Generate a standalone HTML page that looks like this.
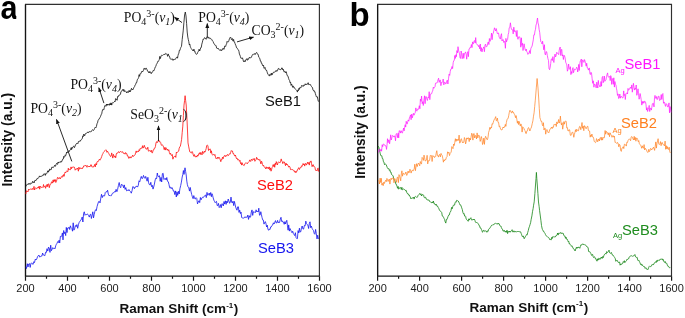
<!DOCTYPE html>
<html><head><meta charset="utf-8"><style>
html,body{margin:0;padding:0;background:#fff;}
svg{display:block;will-change:transform;}
text{font-family:"Liberation Sans",sans-serif;}
.tk{font-size:11px;fill:#222;}
.ttl{font-size:13.5px;font-weight:bold;fill:#111;}
.big{font-size:33px;font-weight:bold;fill:#000;}
.lab{font-size:14.7px;}
.ser text,.ser{font-family:"Liberation Serif",serif;font-size:13.7px;fill:#111;}
.it{font-style:italic;}
</style></head><body>
<svg width="685" height="318" viewBox="0 0 685 318">
<rect width="685" height="318" fill="#fff"/>
<clipPath id="ca"><rect x="0" y="0" width="16.3" height="30"/></clipPath><g clip-path="url(#ca)"><text x="0" y="18.6" class="big" transform="translate(0.5,0) scale(0.9,1)" style="font-size:34px">a</text></g>
<text x="349.5" y="25.5" class="big">b</text>
<path d="M25.5 276.2V4.4H319.4V276.2" fill="none" stroke="#303030" stroke-width="1.15"/>
<path d="M25.5 4.4V276.2H319.4" fill="none" stroke="#151515" stroke-width="1.25"/>
<path d="M25.5 276.2v4.6 M46.5 276.2v2.6 M67.5 276.2v4.6 M88.5 276.2v2.6 M109.5 276.2v4.6 M130.5 276.2v2.6 M151.5 276.2v4.6 M172.5 276.2v2.6 M193.5 276.2v4.6 M214.5 276.2v2.6 M235.5 276.2v4.6 M256.5 276.2v2.6 M277.5 276.2v4.6 M298.5 276.2v2.6 M319.5 276.2v4.6" stroke="#151515" stroke-width="1.2"/>
<text x="25.5" y="292.3" text-anchor="middle" class="tk">200</text>
<text x="67.5" y="292.3" text-anchor="middle" class="tk">400</text>
<text x="109.5" y="292.3" text-anchor="middle" class="tk">600</text>
<text x="151.5" y="292.3" text-anchor="middle" class="tk">800</text>
<text x="193.5" y="292.3" text-anchor="middle" class="tk">1000</text>
<text x="235.5" y="292.3" text-anchor="middle" class="tk">1200</text>
<text x="277.5" y="292.3" text-anchor="middle" class="tk">1400</text>
<text x="319.5" y="292.3" text-anchor="middle" class="tk">1600</text>
<path d="M377.6 276.2V4.4H671.5V276.2" fill="none" stroke="#303030" stroke-width="1.15"/>
<path d="M377.6 4.4V276.2H671.5" fill="none" stroke="#151515" stroke-width="1.25"/>
<path d="M377.6 276.2v4.6 M398.6 276.2v2.6 M419.6 276.2v4.6 M440.6 276.2v2.6 M461.6 276.2v4.6 M482.6 276.2v2.6 M503.6 276.2v4.6 M524.6 276.2v2.6 M545.6 276.2v4.6 M566.6 276.2v2.6 M587.6 276.2v4.6 M608.6 276.2v2.6 M629.6 276.2v4.6 M650.6 276.2v2.6 M671.6 276.2v4.6" stroke="#151515" stroke-width="1.2"/>
<text x="377.6" y="292.3" text-anchor="middle" class="tk">200</text>
<text x="419.6" y="292.3" text-anchor="middle" class="tk">400</text>
<text x="461.6" y="292.3" text-anchor="middle" class="tk">600</text>
<text x="503.6" y="292.3" text-anchor="middle" class="tk">800</text>
<text x="545.6" y="292.3" text-anchor="middle" class="tk">1000</text>
<text x="587.6" y="292.3" text-anchor="middle" class="tk">1200</text>
<text x="629.6" y="292.3" text-anchor="middle" class="tk">1400</text>
<text x="671.6" y="292.3" text-anchor="middle" class="tk">1600</text>
<text class="ttl" x="119.6" y="313.3">Raman Shift (cm<tspan dy="-5.8" font-size="8">-1</tspan><tspan dy="5.8" dx="0.6">)</tspan></text>
<text class="ttl" x="469.5" y="311.9">Raman Shift (cm<tspan dy="-5.8" font-size="8">-1</tspan><tspan dy="5.8" dx="0.6">)</tspan></text>
<text class="ttl" style="font-size:13.8px" transform="translate(11.8,139.7) rotate(-90)" text-anchor="middle">Intensity (a.u.)</text>
<text class="ttl" style="font-size:13.8px" transform="translate(364.5,132.1) rotate(-90)" text-anchor="middle">Intensity (a.u.)</text>
<polyline fill="none" stroke="#1414ee" stroke-width="0.8" stroke-linejoin="round" points="25.8,266.7 26.5,268.5 27.3,263.7 28.0,267.0 28.7,264.0 29.5,263.6 30.2,267.4 30.9,263.6 31.6,262.8 32.4,264.0 33.1,264.4 33.8,261.7 34.5,262.6 35.3,259.1 36.0,260.0 36.7,259.2 37.5,256.8 38.2,255.8 38.9,255.0 39.7,257.1 40.4,256.7 41.1,255.9 41.9,256.2 42.6,253.0 43.3,255.0 44.1,255.2 44.8,255.8 45.6,252.2 46.3,252.6 47.0,248.7 47.8,251.1 48.5,247.1 49.2,248.0 50.0,252.4 50.7,245.2 51.4,250.7 52.1,249.3 52.8,247.6 53.6,248.6 54.3,248.3 55.0,248.9 55.7,245.8 56.4,244.2 57.0,243.3 57.7,241.6 58.4,242.6 59.1,240.2 59.7,243.0 60.4,236.3 61.1,236.8 61.7,236.2 62.4,232.9 63.0,239.9 63.7,230.5 64.3,233.6 65.0,232.1 65.7,235.6 66.3,227.4 67.0,232.6 67.6,228.1 68.3,228.3 69.0,227.1 69.7,229.5 70.4,225.8 71.1,227.7 71.8,228.4 72.5,231.2 73.2,222.8 73.9,230.2 74.6,228.9 75.4,225.5 76.2,226.6 76.9,224.6 77.7,228.3 78.5,224.3 79.2,222.4 80.0,221.2 80.7,220.2 81.5,219.1 82.2,217.0 82.9,222.0 83.6,213.3 84.3,211.8 85.0,215.3 85.7,214.5 86.4,214.7 87.1,213.9 87.8,214.3 88.6,215.6 89.3,217.1 90.0,214.6 90.7,214.3 91.4,218.5 92.1,215.2 92.8,211.8 93.5,217.9 94.2,214.4 94.9,211.3 95.6,209.7 96.3,210.6 97.1,206.4 97.8,204.0 98.6,201.6 99.3,201.4 100.0,202.9 100.8,198.1 101.5,194.3 102.3,197.6 103.0,195.4 103.8,196.0 104.6,195.9 105.3,192.4 106.1,191.6 106.8,192.1 107.6,190.2 108.3,194.1 109.1,195.8 109.9,195.2 110.8,196.1 111.5,195.4 112.2,193.6 113.0,192.8 113.7,192.9 114.5,191.6 115.3,192.0 116.1,189.3 116.9,191.7 117.6,189.5 118.4,185.6 119.2,182.5 119.9,186.3 120.7,187.7 121.4,184.3 122.1,185.0 122.9,185.1 123.6,187.8 124.3,184.9 125.1,189.4 125.8,187.6 126.6,190.8 127.4,190.2 128.1,190.9 128.9,189.5 129.7,190.9 130.5,191.6 131.3,193.2 132.1,190.5 132.8,186.6 133.6,186.9 134.4,188.7 135.1,187.0 135.9,187.0 136.7,185.9 137.5,187.1 138.3,185.4 139.0,180.8 139.8,181.8 140.5,178.5 141.3,176.4 142.0,178.8 142.7,178.2 143.5,175.4 144.2,177.3 145.0,178.4 145.7,176.4 146.4,178.5 147.1,181.2 147.9,177.3 148.6,182.7 149.3,184.5 150.1,185.0 150.8,182.3 151.5,186.6 152.3,185.3 153.0,189.1 153.7,187.0 154.4,184.0 155.2,179.9 155.9,178.0 156.6,178.7 157.3,173.0 158.0,176.3 158.8,176.8 159.5,175.7 160.2,181.3 161.0,177.4 161.7,182.0 162.4,173.7 163.1,173.2 163.9,179.7 164.6,179.0 165.3,178.3 166.1,180.0 166.8,177.5 167.5,181.3 168.3,181.7 169.0,184.6 169.7,187.8 170.5,187.1 171.2,188.7 171.9,187.5 172.7,189.0 173.4,191.1 174.1,190.9 174.8,194.6 175.6,190.9 176.3,197.0 177.0,191.8 177.7,195.4 178.5,191.3 179.2,194.0 179.9,188.8 180.7,185.5 181.4,182.1 182.2,177.0 182.8,174.5 183.4,170.5 184.0,174.4 185.0,167.8 185.6,171.4 186.2,175.0 186.8,181.1 187.3,184.3 188.0,186.8 188.8,187.8 189.5,191.1 190.2,187.4 190.9,191.1 191.7,194.5 192.4,196.9 193.1,198.7 193.8,195.6 194.5,198.4 195.3,199.1 196.0,197.6 196.8,198.5 197.5,203.9 198.2,202.2 199.0,200.7 199.7,202.6 200.4,197.5 201.1,199.8 201.9,198.0 202.6,197.2 203.3,197.6 204.1,196.2 204.8,195.7 205.5,195.0 206.3,197.6 207.0,192.4 207.7,195.3 208.5,194.7 209.2,193.0 209.9,195.5 210.7,192.5 211.4,196.7 212.0,193.7 212.6,195.4 213.2,197.9 213.9,200.2 214.5,201.5 215.2,202.7 215.9,201.7 216.5,201.4 217.2,205.6 217.9,205.5 218.5,203.4 219.2,207.6 219.9,206.5 220.5,204.6 221.2,207.8 221.9,203.7 222.6,204.0 223.3,206.0 224.0,201.5 224.7,204.1 225.4,200.8 226.1,204.4 226.8,201.1 227.5,202.7 228.2,199.0 228.9,201.0 229.6,203.3 230.3,202.0 231.0,197.1 231.7,202.3 232.4,203.0 233.0,201.2 233.7,205.6 234.4,201.4 235.0,204.1 235.7,207.2 236.4,209.0 237.0,210.2 237.7,206.8 238.4,206.8 239.0,212.4 239.7,210.1 240.4,213.6 241.0,212.1 241.7,217.6 242.4,217.9 243.0,218.3 243.7,218.0 244.4,217.7 245.1,216.7 245.8,217.7 246.4,217.1 247.1,217.2 247.8,215.1 248.5,219.4 249.2,215.7 249.9,217.5 250.6,216.9 251.3,212.0 252.0,209.9 252.7,215.4 253.4,211.6 254.1,212.5 254.8,211.8 255.5,212.5 256.1,209.8 256.8,211.9 257.5,211.1 258.2,212.0 258.8,208.2 259.5,215.2 260.1,215.1 260.8,211.7 261.4,214.5 262.0,217.4 262.7,219.9 263.3,220.0 264.0,224.1 264.6,222.7 265.3,221.6 265.9,223.2 266.6,227.0 267.3,225.2 267.9,229.0 268.6,230.3 269.3,229.1 270.0,229.6 270.7,226.9 271.3,226.9 272.0,225.4 272.7,225.0 273.4,222.8 274.1,224.0 274.8,222.2 275.5,220.6 276.2,223.0 276.9,222.8 277.6,220.4 278.3,223.0 279.0,222.2 279.6,222.4 280.3,219.1 281.0,217.3 281.6,221.4 282.3,220.9 282.9,222.2 283.6,222.1 284.2,224.3 284.9,221.6 285.5,224.0 286.1,222.0 286.8,220.3 287.4,225.2 288.1,230.2 288.7,224.9 289.4,231.1 290.0,228.5 290.7,229.9 291.4,231.6 292.0,232.7 292.7,231.2 293.4,233.6 294.0,234.5 294.7,235.6 295.4,232.7 296.0,237.5 296.7,238.5 297.4,238.6 298.1,230.6 298.8,233.0 299.4,228.2 300.1,232.0 300.8,231.7 301.5,227.6 302.2,226.0 302.9,228.9 303.6,229.1 304.4,225.5 305.1,225.9 305.8,221.1 306.5,223.6 307.2,224.6 307.9,225.1 308.6,228.5 309.3,223.5 310.0,221.8 310.7,227.7 311.4,226.1 312.1,228.4 312.8,229.7 313.5,230.6 314.2,233.4 314.9,234.3 315.6,229.4 316.3,233.7 317.0,238.9 317.7,235.2 318.4,239.0"/>
<polyline fill="none" stroke="#ff1010" stroke-width="0.8" stroke-linejoin="round" points="25.8,194.1 26.4,190.7 26.9,191.7 27.4,191.2 28.0,191.8 28.6,189.2 29.1,190.1 29.7,189.5 30.2,189.0 30.8,189.0 31.3,189.2 31.9,189.3 32.4,188.4 33.0,189.7 33.5,188.5 34.0,186.4 34.6,190.0 35.2,188.2 35.7,187.7 36.3,188.6 36.8,188.5 37.4,188.2 38.0,187.1 38.5,188.1 39.1,186.1 39.7,189.2 40.2,186.2 40.8,187.2 41.3,187.3 41.9,187.4 42.4,186.9 43.0,187.6 43.5,184.5 44.0,186.7 44.5,186.6 45.1,186.2 45.6,188.3 46.1,185.5 46.6,186.4 47.2,184.2 47.7,186.7 48.2,184.2 48.8,183.8 49.3,187.7 49.8,185.5 50.4,184.3 50.9,184.1 51.5,181.9 52.0,181.9 52.5,183.1 53.1,179.9 53.6,182.2 54.2,179.6 54.7,181.3 55.3,179.6 55.8,182.5 56.4,181.3 57.0,179.3 57.5,177.4 58.1,178.3 58.7,178.8 59.2,177.4 59.8,178.5 60.3,179.0 60.9,177.5 61.4,176.6 62.0,177.4 62.5,175.7 63.0,176.4 63.5,174.6 64.1,176.3 64.6,173.6 65.1,172.2 65.6,173.0 66.2,171.7 66.7,170.8 67.2,171.3 67.8,171.8 68.3,168.2 68.8,170.1 69.4,169.5 69.9,169.1 70.5,169.7 71.0,166.9 71.5,168.7 72.1,167.2 72.6,167.2 73.1,167.0 73.7,167.0 74.2,167.0 74.7,168.2 75.2,170.2 75.8,169.2 76.3,169.2 76.8,169.0 77.3,168.0 77.9,169.4 78.4,171.2 78.9,167.1 79.5,169.1 80.0,169.0 80.5,167.9 81.0,168.1 81.6,168.4 82.1,169.0 82.6,167.7 83.1,167.7 83.7,165.9 84.2,166.1 84.8,165.5 85.3,165.7 85.8,165.0 86.4,166.3 87.0,167.3 87.5,165.6 88.0,166.1 88.6,166.6 89.2,166.0 89.7,167.0 90.3,166.3 90.8,164.7 91.4,164.9 91.9,166.9 92.5,166.8 93.0,167.3 93.6,166.4 94.1,166.4 94.7,164.4 95.3,166.9 95.9,163.6 96.5,165.0 97.0,161.8 97.6,161.5 98.2,161.6 98.8,160.2 99.4,159.2 100.0,160.2 100.5,159.2 101.1,158.1 101.7,156.5 102.3,154.7 102.9,153.7 103.4,152.4 104.0,151.6 104.6,151.2 105.2,150.3 105.8,149.7 106.3,150.1 106.9,152.3 107.5,151.2 108.1,152.3 108.7,153.3 109.3,154.7 109.9,155.2 110.5,156.5 111.1,156.2 111.7,152.9 112.2,155.3 112.8,158.1 113.4,154.3 114.0,156.0 114.6,157.2 115.1,156.1 115.7,157.8 116.3,153.9 116.9,153.0 117.5,153.2 118.1,152.2 118.7,151.5 119.2,152.9 119.8,152.3 120.4,151.6 121.0,151.4 121.6,152.3 122.1,152.1 122.7,151.7 123.3,153.3 123.8,153.4 124.4,153.3 125.0,154.2 125.6,152.5 126.2,153.8 126.8,153.6 127.4,156.0 128.0,155.8 128.6,158.2 129.1,158.3 129.7,156.9 130.3,156.8 130.9,158.1 131.5,156.9 132.1,156.6 132.6,155.2 133.2,156.6 133.8,155.7 134.4,155.5 135.0,154.9 135.6,152.9 136.2,150.9 136.7,152.5 137.3,151.5 137.9,151.0 138.5,151.8 139.1,149.7 139.6,150.6 140.2,148.3 140.8,148.6 141.4,148.2 142.0,148.3 142.5,145.7 143.1,148.1 143.7,146.8 144.3,145.3 144.9,147.5 145.5,147.7 146.0,149.2 146.6,149.0 147.2,149.1 147.8,147.2 148.4,151.1 148.9,151.2 149.5,150.7 150.1,150.6 150.7,151.7 151.3,150.2 151.9,152.8 152.5,152.8 153.1,150.1 153.7,150.0 154.2,148.4 154.8,148.3 155.4,146.6 156.0,142.9 156.6,141.6 157.1,142.8 157.7,141.8 158.3,140.1 158.9,140.1 159.5,142.0 160.1,141.6 160.7,142.6 161.3,145.2 161.9,145.3 162.4,145.0 163.0,145.4 163.6,147.3 164.2,149.6 164.8,147.4 165.3,150.1 165.9,147.6 166.5,148.5 167.1,150.1 167.7,149.1 168.2,150.7 168.8,149.8 169.4,152.6 170.0,154.2 170.6,153.2 171.1,155.1 171.7,155.5 172.3,154.5 172.9,159.2 173.5,157.1 174.0,157.1 174.6,156.4 175.2,155.9 175.8,157.4 176.4,152.1 176.9,152.9 177.5,152.0 178.1,151.4 178.7,151.1 179.2,148.2 179.8,146.9 180.4,146.1 181.0,142.9 181.6,139.4 182.2,132.7 182.8,126.1 183.4,115.5 184.0,105.1 184.6,100.4 185.1,95.7 185.6,100.3 186.2,105.0 186.8,115.5 187.3,126.0 188.0,142.9 188.6,146.1 189.2,149.1 189.8,151.9 190.4,152.2 190.9,152.5 191.5,153.2 192.1,151.5 192.7,152.7 193.3,155.1 193.9,156.3 194.5,154.6 195.1,156.8 195.6,157.0 196.2,156.1 196.8,157.1 197.4,155.1 198.0,156.1 198.6,153.8 199.2,154.1 199.8,152.6 200.3,154.5 200.9,152.4 201.5,154.2 202.1,154.9 202.6,151.4 203.2,153.1 203.8,153.3 204.4,151.1 205.0,152.1 205.6,150.5 206.2,148.5 206.7,145.5 207.3,145.2 207.9,145.6 208.5,150.5 209.0,149.1 209.6,149.4 210.2,148.9 210.8,153.1 211.4,150.8 212.0,154.5 212.6,154.9 213.2,154.6 213.8,154.3 214.4,155.4 214.9,154.5 215.5,157.1 216.1,158.8 216.7,158.2 217.3,158.6 217.8,157.0 218.4,158.4 219.0,157.2 219.6,158.1 220.2,159.7 220.8,161.7 221.3,159.6 221.9,159.8 222.5,157.1 223.1,158.8 223.6,157.1 224.2,155.9 224.8,155.3 225.4,156.6 226.0,155.5 226.6,156.2 227.2,154.7 227.8,154.5 228.4,155.6 229.0,154.4 229.6,153.9 230.1,154.2 230.7,152.3 231.3,150.5 231.9,151.3 232.5,151.0 233.0,153.7 233.6,153.5 234.2,155.1 234.8,156.1 235.4,155.0 235.9,156.8 236.5,158.7 237.1,158.1 237.7,159.9 238.3,159.5 238.8,159.6 239.4,161.3 240.0,160.3 240.5,163.6 241.1,162.7 241.6,165.1 242.1,162.7 242.6,164.6 243.2,165.3 243.7,165.1 244.2,165.5 244.8,163.9 245.3,163.3 245.8,162.7 246.4,163.3 246.9,162.8 247.4,163.7 248.0,162.8 248.5,162.2 249.1,161.6 249.7,159.9 250.3,161.1 250.8,161.5 251.4,159.1 252.0,159.9 252.6,160.4 253.2,158.7 253.7,159.5 254.3,158.5 254.9,161.3 255.5,160.1 256.0,159.6 256.6,157.3 257.1,159.2 257.7,158.7 258.2,159.7 258.7,159.1 259.3,160.3 259.8,159.6 260.3,161.5 260.9,163.9 261.4,161.1 261.9,161.9 262.5,164.6 263.0,165.7 263.5,165.1 264.1,166.8 264.6,167.4 265.1,167.7 265.7,168.8 266.2,166.8 266.7,168.4 267.3,168.1 267.8,167.3 268.3,168.9 268.9,167.0 269.4,167.0 269.9,170.1 270.5,167.9 271.0,171.2 271.5,169.9 272.1,167.6 272.6,166.7 273.1,164.7 273.7,166.5 274.2,164.3 274.7,167.3 275.3,163.1 275.8,164.6 276.3,161.6 276.9,163.4 277.4,165.0 278.0,162.7 278.5,161.9 279.1,162.0 279.6,162.6 280.1,162.8 280.7,161.2 281.2,158.9 281.8,161.2 282.3,161.6 282.8,163.6 283.4,161.7 283.9,162.3 284.4,162.0 285.0,164.0 285.5,165.7 286.0,163.1 286.6,164.9 287.1,164.1 287.7,165.0 288.2,166.0 288.8,167.2 289.4,166.2 290.0,167.2 290.5,169.6 291.1,169.1 291.6,169.6 292.2,169.7 292.7,169.4 293.2,170.4 293.8,170.9 294.3,170.7 294.8,172.2 295.4,171.4 295.9,172.8 296.5,171.2 297.0,171.4 297.6,169.3 298.2,168.8 298.8,167.6 299.3,169.6 299.9,168.3 300.4,167.6 301.0,167.7 301.5,165.7 302.0,166.4 302.6,165.3 303.1,163.5 303.6,164.9 304.2,163.9 304.7,166.1 305.3,163.5 305.8,163.5 306.4,165.1 307.0,163.8 307.5,162.2 308.1,163.8 308.7,162.5 309.3,165.1 309.8,161.9 310.4,162.1 311.0,160.9 311.5,163.3 312.1,166.7 312.7,165.0 313.3,164.7 313.8,166.6 314.4,166.6 314.9,167.3 315.5,170.3 316.0,170.5 316.5,170.5 317.1,171.0 317.6,168.6 318.1,167.9 318.7,171.4 319.2,171.4"/>
<polyline fill="none" stroke="#111" stroke-width="0.8" stroke-linejoin="round" points="25.5,186.5 26.0,186.4 26.5,185.2 27.1,184.4 27.6,183.9 28.1,184.6 28.6,183.6 29.1,183.1 29.6,184.2 30.1,184.0 30.7,184.1 31.2,182.8 31.7,183.3 32.2,182.8 32.7,181.3 33.2,182.4 33.6,181.9 34.1,182.9 34.6,180.9 35.1,180.3 35.6,180.9 36.1,179.7 36.6,179.8 37.1,178.4 37.5,178.4 38.0,178.6 38.5,177.9 39.0,177.1 39.5,175.9 40.0,176.9 40.5,176.3 40.9,176.6 41.4,176.0 41.9,176.4 42.4,175.3 42.9,175.2 43.4,175.3 43.9,173.8 44.4,174.1 44.8,173.7 45.3,175.4 45.8,173.6 46.3,173.9 46.8,173.4 47.3,172.2 47.8,170.8 48.3,172.2 48.7,170.7 49.2,171.0 49.7,169.0 50.2,169.2 50.7,169.9 51.2,169.7 51.7,167.3 52.2,166.9 52.6,167.5 53.1,167.7 53.6,166.9 54.1,166.7 54.6,165.3 55.0,166.1 55.5,166.2 56.0,164.6 56.5,163.5 57.0,163.7 57.5,164.4 58.0,162.2 58.4,163.1 58.9,162.0 59.4,162.3 59.9,161.8 60.4,161.7 60.8,162.4 61.3,161.2 61.8,161.6 62.3,160.1 62.8,159.1 63.3,159.0 63.8,156.3 64.3,157.3 64.8,156.7 65.2,154.9 65.7,155.5 66.2,154.0 66.7,152.0 67.2,152.8 67.7,151.5 68.2,151.1 68.7,151.0 69.2,151.6 69.6,150.4 70.1,149.9 70.6,149.8 71.1,147.7 71.6,149.6 72.0,147.5 72.5,148.2 73.0,146.7 73.5,146.3 74.0,146.3 74.5,147.6 75.0,146.3 75.5,144.8 76.0,144.6 76.5,143.5 76.9,143.9 77.4,143.1 77.9,143.6 78.4,141.6 78.9,141.9 79.4,141.1 79.9,140.8 80.4,141.1 80.9,139.9 81.3,139.5 81.8,139.3 82.3,138.5 82.8,135.9 83.2,136.6 83.7,134.1 84.2,134.7 84.7,135.8 85.2,133.9 85.7,133.5 86.2,133.5 86.6,133.1 87.1,132.8 87.6,131.9 88.1,132.9 88.6,132.5 89.1,131.5 89.6,131.7 90.1,131.8 90.6,131.9 91.0,131.3 91.5,131.3 92.0,130.4 92.5,129.7 93.0,129.9 93.5,130.5 94.0,129.8 94.5,128.6 94.9,127.5 95.4,127.5 95.9,127.9 96.4,126.5 97.0,123.7 97.5,122.9 98.0,120.6 98.5,119.6 99.1,119.3 99.6,117.9 100.1,117.4 100.6,116.3 101.1,114.8 101.7,113.9 102.2,111.2 102.7,109.5 103.2,109.5 103.8,109.9 104.3,107.6 104.9,105.5 105.4,105.7 105.9,106.3 106.4,104.2 106.8,105.4 107.3,104.0 107.8,105.2 108.3,104.6 108.8,104.2 109.3,105.3 109.8,103.5 110.3,103.2 110.7,105.0 111.2,102.9 111.7,105.1 112.2,103.3 112.7,102.5 113.2,102.8 113.7,102.4 114.2,102.0 114.7,101.2 115.1,101.7 115.6,98.6 116.1,99.5 116.6,99.2 117.1,100.3 117.6,96.6 118.1,97.0 118.5,95.6 119.0,95.1 119.5,95.3 120.0,94.3 120.5,94.2 120.9,91.7 121.4,91.4 121.8,91.2 122.3,90.1 122.8,89.4 123.3,90.7 123.8,89.4 124.2,91.7 124.7,90.7 125.2,90.8 125.7,91.3 126.2,92.0 126.6,92.9 127.1,91.7 127.6,91.8 128.1,92.7 128.6,91.3 129.1,90.4 129.6,92.0 130.1,90.7 130.5,91.5 131.0,89.6 131.5,88.3 132.0,89.9 132.5,89.5 133.0,89.8 133.6,88.1 134.1,87.1 134.6,86.5 135.1,84.9 135.7,84.4 136.2,82.5 136.7,82.6 137.2,80.2 137.6,79.2 138.1,78.7 138.6,77.5 139.1,74.7 139.6,76.3 140.1,73.6 140.6,73.9 141.0,73.3 141.5,72.0 142.0,71.2 142.5,72.0 143.1,70.9 143.6,70.2 144.1,68.1 144.6,68.5 145.2,69.5 145.7,68.3 146.2,68.1 146.7,69.0 147.1,69.8 147.6,71.2 148.1,71.6 148.6,72.6 149.1,71.4 149.6,72.8 150.1,71.8 150.7,72.1 151.2,73.7 151.7,72.6 152.2,72.5 152.7,71.5 153.2,70.4 153.8,70.9 154.3,69.8 154.8,68.3 155.3,66.9 155.8,66.5 156.3,64.6 156.8,63.9 157.3,62.8 157.8,61.4 158.3,61.5 158.8,60.5 159.3,59.5 159.8,56.4 160.3,58.6 160.8,57.0 161.3,55.5 161.8,55.2 162.3,55.4 162.8,55.3 163.3,55.0 163.8,54.4 164.3,54.2 164.8,54.8 165.3,54.0 165.8,53.3 166.3,53.7 166.8,54.3 167.2,54.8 167.7,56.4 168.2,53.9 168.7,55.5 169.2,55.8 169.7,56.9 170.1,58.5 170.6,59.2 171.1,58.9 171.6,59.4 172.1,58.7 172.5,59.5 173.0,60.4 173.4,59.1 173.9,59.7 174.4,59.5 174.9,59.0 175.4,59.3 176.0,58.1 176.5,57.4 177.0,56.9 177.5,58.2 178.0,55.6 178.4,54.0 178.9,53.2 179.3,50.4 179.8,50.6 180.4,48.6 180.9,47.3 181.5,46.3 182.2,39.5 182.7,35.1 183.2,30.9 183.9,22.5 184.6,15.0 185.3,12.0 186.0,16.0 186.6,23.5 187.2,32.0 187.8,37.1 188.3,39.5 188.8,41.7 189.3,44.9 189.8,44.0 190.2,46.2 190.7,47.6 191.2,48.7 191.6,49.0 192.1,49.6 192.6,50.6 193.0,50.2 193.5,50.9 193.9,49.1 194.4,51.3 194.9,51.1 195.3,53.1 195.8,53.7 196.2,54.3 196.7,54.2 197.2,53.9 197.7,52.4 198.1,51.9 198.6,50.7 199.1,49.2 199.7,51.0 200.2,49.6 200.8,47.5 201.3,47.4 201.8,44.1 202.2,42.9 202.7,40.8 203.2,39.0 203.7,39.3 204.1,38.6 204.6,37.6 205.0,38.4 205.5,38.5 206.1,39.3 206.6,37.5 207.2,36.7 207.7,37.4 208.2,38.3 208.7,37.2 209.2,37.5 209.7,38.5 210.2,38.2 210.7,38.9 211.2,38.9 211.6,39.3 212.1,40.3 212.6,41.0 213.1,41.4 213.6,42.9 214.1,43.8 214.6,44.6 215.1,45.4 215.6,45.2 216.1,45.8 216.6,48.1 217.1,48.0 217.6,48.6 218.1,48.1 218.6,49.3 219.1,49.5 219.6,49.9 220.1,50.5 220.6,49.6 221.1,50.4 221.6,50.9 222.1,49.2 222.6,49.4 223.1,48.2 223.6,49.2 224.1,49.3 224.6,46.1 225.1,46.0 225.6,46.5 226.1,44.8 226.6,43.8 227.1,41.4 227.6,42.0 228.1,42.0 228.6,41.6 229.0,40.2 229.5,38.5 230.0,37.7 230.5,37.0 230.9,37.8 231.4,39.6 231.9,38.9 232.4,38.5 233.0,41.1 233.6,39.4 234.1,42.1 234.6,42.1 235.1,43.7 235.6,45.0 236.0,45.8 236.5,47.7 237.0,47.8 237.5,48.6 238.0,49.5 238.5,50.0 239.0,51.6 239.4,54.0 239.9,55.0 240.4,56.5 240.9,58.2 241.4,58.1 241.9,58.6 242.4,57.8 242.9,59.2 243.5,61.6 244.0,60.9 244.5,61.0 245.0,61.9 245.5,59.9 246.0,60.3 246.5,59.5 247.0,58.5 247.4,60.2 247.9,60.0 248.4,58.7 248.9,58.7 249.4,57.2 249.9,57.9 250.4,57.7 250.9,57.8 251.4,57.4 251.8,56.1 252.3,55.2 252.8,54.3 253.3,54.0 253.8,54.5 254.3,54.2 254.8,53.5 255.2,54.5 255.7,53.5 256.2,52.8 256.7,52.4 257.2,53.7 257.8,54.0 258.3,55.1 258.8,57.2 259.3,57.6 259.9,58.9 260.4,61.1 260.9,61.1 261.4,63.3 261.9,63.3 262.5,65.5 263.0,65.8 263.5,65.1 264.0,68.4 264.5,68.1 265.0,67.4 265.5,69.7 266.0,70.4 266.5,70.1 266.9,71.3 267.4,72.9 267.9,74.2 268.4,74.7 268.9,75.5 269.4,76.1 269.9,74.3 270.4,75.1 270.9,75.3 271.3,73.1 271.8,75.0 272.3,74.7 272.8,73.0 273.2,72.9 273.7,72.1 274.2,72.4 274.7,72.0 275.2,71.8 275.7,70.7 276.2,71.4 276.6,70.5 277.1,71.2 277.6,70.4 278.1,68.7 278.6,68.4 279.1,69.5 279.7,69.0 280.2,69.6 280.7,69.8 281.2,69.2 281.8,67.8 282.3,68.1 282.8,70.0 283.3,69.3 283.8,71.5 284.3,71.2 284.7,72.2 285.2,71.7 285.7,72.8 286.2,71.7 286.7,73.8 287.2,75.6 287.7,75.7 288.2,76.9 288.7,78.7 289.1,79.9 289.6,80.5 290.1,82.8 290.6,82.2 291.1,85.4 291.6,84.1 292.1,85.1 292.6,87.3 293.0,86.1 293.5,86.2 294.0,88.1 294.5,87.9 295.0,88.3 295.4,89.2 295.9,89.7 296.4,90.1 296.9,90.6 297.4,92.1 297.9,89.9 298.4,90.7 298.9,88.4 299.3,89.4 299.8,87.5 300.3,87.6 300.8,88.0 301.3,86.6 301.8,85.3 302.3,86.1 302.8,86.1 303.3,86.4 303.8,85.0 304.2,85.3 304.7,85.3 305.2,83.8 305.7,84.7 306.2,83.9 306.7,84.6 307.2,83.9 307.7,84.1 308.2,82.7 308.6,84.6 309.1,84.6 309.6,84.4 310.1,85.0 310.5,84.6 311.0,85.9 311.5,86.5 312.0,87.4 312.5,87.6 313.0,90.2 313.5,90.6 313.9,90.2 314.4,91.8 314.9,91.6 315.4,93.7 315.9,95.3 316.4,96.9 316.9,96.7 317.4,96.8 317.8,99.1 318.3,101.3 318.8,101.5"/>
<polyline fill="none" stroke="#178517" stroke-width="0.8" stroke-linejoin="round" points="378.2,146.1 378.8,147.1 379.5,150.2 380.1,153.1 380.7,155.5 381.2,155.7 381.8,155.7 382.3,158.5 382.9,158.6 383.4,161.7 383.9,161.9 384.5,164.7 385.1,164.0 385.6,164.1 386.1,164.5 386.7,166.0 387.2,167.4 387.8,168.6 388.3,168.7 388.9,168.6 389.4,170.4 389.9,169.8 390.4,172.1 391.0,172.0 391.5,174.5 392.0,174.9 392.5,175.3 393.1,175.7 393.6,178.3 394.1,179.6 394.7,180.3 395.3,181.6 395.9,184.3 396.4,184.4 397.0,186.3 397.6,188.3 398.1,186.4 398.7,189.1 399.2,188.7 399.7,187.7 400.2,187.7 400.8,187.7 401.3,189.5 401.9,187.3 402.4,189.8 402.9,189.5 403.5,189.0 404.1,189.3 404.6,189.6 405.1,189.9 405.7,190.9 406.3,190.5 406.9,192.8 407.4,193.6 408.0,193.5 408.6,195.1 409.2,194.9 409.8,196.1 410.3,197.1 410.9,198.9 411.5,198.2 412.0,198.0 412.5,198.0 413.0,197.8 413.6,197.0 414.1,199.1 414.6,197.1 415.1,197.1 415.7,196.4 416.3,196.9 416.9,197.5 417.5,196.9 418.1,195.3 418.7,194.7 419.3,194.3 419.8,193.4 420.4,194.6 421.0,193.8 421.5,196.0 422.0,194.7 422.5,194.7 423.1,194.6 423.6,195.1 424.1,197.4 424.6,197.8 425.2,197.1 425.7,197.3 426.2,199.1 426.8,199.1 427.4,200.0 427.9,200.3 428.4,200.1 429.0,199.9 429.6,201.5 430.1,201.6 430.6,201.9 431.2,202.6 431.8,202.8 432.3,201.9 432.8,202.9 433.4,201.0 433.9,203.5 434.4,203.4 434.9,204.6 435.5,205.0 436.0,204.0 436.5,205.0 437.0,206.3 437.6,206.1 438.2,207.6 438.8,208.2 439.4,210.1 440.0,210.9 440.6,211.2 441.2,211.9 441.7,212.5 442.3,216.0 442.9,216.2 443.5,217.2 444.1,218.5 444.6,219.5 445.2,221.9 445.8,223.1 446.4,219.4 447.0,219.5 447.5,218.1 448.1,216.3 448.7,215.1 449.3,215.0 449.9,212.6 450.4,212.0 451.0,210.6 451.6,207.4 452.2,208.8 452.8,206.6 453.4,205.2 454.0,205.1 454.6,205.1 455.1,202.4 455.6,202.0 456.1,202.4 456.7,200.3 457.2,200.4 457.7,200.9 458.2,201.0 458.8,202.0 459.4,203.4 459.9,204.8 460.5,204.8 461.1,206.0 461.7,207.8 462.3,209.5 462.9,212.4 463.5,213.9 464.1,213.4 464.6,216.1 465.1,215.7 465.6,216.3 466.2,218.9 466.7,219.7 467.2,220.3 467.7,220.6 468.2,221.3 468.8,218.8 469.3,220.1 469.8,218.8 470.3,218.6 470.9,217.7 471.4,219.9 472.0,220.3 472.6,219.9 473.2,219.0 473.8,219.9 474.4,219.2 474.9,220.3 475.4,222.1 475.9,222.7 476.5,222.5 477.0,223.0 477.5,222.8 478.0,223.7 478.6,224.2 479.1,225.7 479.6,225.8 480.2,228.0 480.8,228.0 481.3,229.3 481.8,230.0 482.4,232.2 483.0,231.7 483.5,230.4 484.1,230.3 484.7,231.5 485.2,231.1 485.8,230.8 486.4,231.2 486.9,232.3 487.5,230.9 488.1,231.4 488.7,229.2 489.2,228.6 489.8,228.3 490.4,227.3 490.9,226.4 491.5,225.4 492.1,225.4 492.6,224.8 493.1,224.6 493.7,224.8 494.2,223.9 494.8,223.8 495.4,223.2 495.9,223.4 496.4,223.7 497.0,223.8 497.6,224.1 498.1,223.0 498.6,223.9 499.2,223.8 499.8,225.5 500.3,226.1 500.9,226.0 501.4,227.6 501.9,228.8 502.5,229.2 503.1,231.1 503.6,231.2 504.2,230.2 504.7,231.6 505.3,232.1 505.9,231.0 506.4,232.3 507.0,230.2 507.6,233.6 508.1,231.2 508.7,232.1 509.3,232.0 509.8,231.0 510.4,232.2 511.0,231.1 511.5,230.6 512.1,229.7 512.7,231.9 513.2,232.1 513.8,230.8 514.4,231.2 514.9,232.2 515.5,231.3 516.1,231.9 516.6,231.8 517.2,231.6 517.8,231.4 518.3,231.9 518.9,231.2 519.5,231.9 520.0,232.1 520.6,231.8 521.2,233.5 521.7,234.8 522.3,236.6 522.9,236.4 523.4,235.9 524.0,238.7 524.5,238.4 525.1,237.0 525.6,236.3 526.1,235.5 526.6,234.5 527.2,234.9 527.7,232.5 528.3,230.5 528.9,227.9 529.4,226.7 530.0,224.7 530.6,222.7 531.2,219.3 531.9,215.9 532.5,211.7 533.1,208.7 533.6,205.2 534.2,201.9 534.9,193.4 535.5,185.0 536.0,178.6 536.4,172.4 536.8,178.6 537.3,185.0 537.9,193.4 538.5,202.0 539.1,206.3 539.6,210.7 540.2,215.0 540.9,220.4 541.5,225.5 542.3,229.3 542.8,229.9 543.3,231.4 543.8,231.3 544.4,232.6 544.9,233.2 545.4,234.4 545.9,235.4 546.4,235.9 547.0,236.4 547.5,237.0 548.0,237.1 548.5,237.4 549.1,238.1 549.6,239.5 550.1,239.4 550.6,239.4 551.1,240.1 551.7,237.4 552.2,238.6 552.7,236.7 553.2,237.1 553.8,236.5 554.3,236.7 554.9,237.2 555.4,236.9 556.0,235.5 556.5,235.6 557.1,234.7 557.6,233.0 558.1,235.1 558.6,233.2 559.1,233.2 559.7,233.4 560.2,232.6 560.7,232.7 561.2,233.7 561.7,232.8 562.3,233.5 562.8,233.1 563.3,233.4 563.8,235.5 564.4,236.0 564.9,235.8 565.5,238.3 566.0,237.1 566.5,239.1 567.1,239.0 567.7,240.4 568.2,241.7 568.7,241.1 569.3,244.0 569.8,243.6 570.3,244.6 570.9,245.2 571.4,246.4 571.9,245.8 572.5,246.5 573.0,248.4 573.5,248.6 574.1,249.1 574.6,250.4 575.2,251.0 575.8,248.7 576.4,247.3 576.9,248.5 577.5,247.1 578.1,247.9 578.7,247.0 579.3,247.4 579.8,248.3 580.4,246.4 580.9,244.8 581.5,244.9 582.1,244.5 582.6,243.8 583.2,244.9 583.7,244.3 584.3,244.5 584.8,245.0 585.4,245.0 585.9,245.3 586.4,246.0 587.0,247.0 587.5,247.2 588.1,247.5 588.6,251.5 589.2,251.9 589.8,251.6 590.4,252.5 590.9,253.6 591.5,255.3 592.1,255.2 592.6,254.4 593.2,256.8 593.7,257.6 594.3,256.7 594.9,257.2 595.4,258.8 596.0,258.6 596.5,260.7 597.1,261.2 597.7,258.8 598.2,260.1 598.8,258.2 599.3,258.4 599.9,259.5 600.5,257.9 601.0,258.2 601.6,257.0 602.1,258.5 602.7,256.5 603.3,257.6 603.8,255.8 604.4,254.5 605.0,254.2 605.5,253.4 606.1,254.1 606.7,251.6 607.3,252.5 607.8,252.3 608.4,251.5 609.0,250.1 609.5,252.6 610.1,252.8 610.7,253.5 611.3,252.4 611.8,253.7 612.4,255.0 613.0,255.1 613.5,256.1 614.1,256.5 614.7,257.6 615.3,258.7 615.8,261.3 616.4,260.4 616.9,260.6 617.5,260.6 618.0,262.2 618.5,262.5 619.1,262.4 619.6,262.0 620.1,265.2 620.7,264.0 621.2,264.1 621.7,264.5 622.3,263.2 622.8,263.3 623.3,261.6 623.9,262.3 624.4,260.7 624.9,262.6 625.5,261.6 626.0,261.1 626.5,260.7 627.1,259.0 627.6,259.4 628.1,258.8 628.7,258.8 629.2,257.0 629.7,256.5 630.3,256.2 630.8,255.8 631.4,255.7 632.0,255.9 632.6,256.3 633.1,255.8 633.7,255.9 634.3,255.5 634.9,254.5 635.5,256.8 636.0,256.7 636.6,257.6 637.2,257.4 637.8,260.4 638.3,260.6 638.9,260.2 639.5,261.7 640.0,262.8 640.6,264.5 641.2,263.9 641.8,265.3 642.3,264.7 642.9,266.0 643.5,266.5 644.0,266.8 644.6,266.7 645.2,268.5 645.8,267.7 646.3,268.2 646.9,269.3 647.5,270.0 648.0,269.3 648.6,267.8 649.1,266.6 649.7,265.9 650.3,266.5 650.8,266.6 651.4,266.2 651.9,265.0 652.5,264.0 653.0,264.5 653.6,264.6 654.1,263.2 654.6,263.1 655.2,262.1 655.7,261.7 656.2,262.5 656.8,260.5 657.3,261.5 657.8,260.0 658.4,260.1 658.9,260.6 659.5,260.3 660.0,259.2 660.6,259.3 661.1,259.3 661.7,259.1 662.2,258.8 662.8,260.2 663.3,259.5 663.9,261.6 664.5,262.4 665.1,261.4 665.6,263.1 666.2,263.2 666.8,263.3 667.3,265.2 667.9,266.3 668.5,266.2 669.1,267.5 669.6,267.9 670.2,267.1"/>
<polyline fill="none" stroke="#ff8020" stroke-width="0.7" stroke-linejoin="round" points="378.2,180.1 378.8,180.3 379.4,184.0 380.1,178.1 380.7,182.5 381.3,178.3 381.9,185.1 382.6,183.4 383.2,185.7 383.8,182.1 384.4,183.5 385.0,181.7 385.6,180.3 386.3,181.7 386.9,178.4 387.5,179.8 388.1,181.5 388.7,180.1 389.3,179.0 389.9,184.1 390.5,179.7 391.1,178.2 391.6,179.6 392.2,178.1 392.8,178.2 393.4,178.1 394.0,182.8 394.6,178.6 395.3,178.9 395.9,179.7 396.5,182.3 397.1,177.8 397.8,176.9 398.4,182.6 399.0,174.6 399.6,176.4 400.1,178.0 400.7,180.8 401.3,173.9 401.9,170.8 402.5,176.2 403.0,173.4 403.6,173.3 404.2,174.5 404.8,173.8 405.3,173.7 405.9,172.0 406.5,175.2 407.0,175.4 407.6,172.2 408.2,171.0 408.7,173.1 409.3,172.4 409.9,169.2 410.5,170.2 411.1,173.1 411.8,170.7 412.4,170.2 413.0,171.1 413.6,169.8 414.2,169.0 414.8,164.2 415.4,170.7 416.0,166.8 416.6,163.7 417.2,166.6 417.8,164.4 418.5,163.0 419.1,164.2 419.7,165.8 420.3,161.5 420.9,163.3 421.5,164.1 422.1,157.4 422.8,158.1 423.4,160.4 424.0,155.1 424.6,157.7 425.2,161.0 425.9,160.7 426.5,160.0 427.1,155.3 427.7,163.9 428.4,160.6 429.0,161.2 429.6,160.3 430.3,155.4 430.9,155.6 431.5,155.6 432.1,161.5 432.8,155.6 433.4,156.3 434.0,156.0 434.5,157.5 435.1,157.1 435.7,156.4 436.2,153.1 436.8,150.7 437.4,155.4 437.9,155.4 438.5,157.1 439.1,154.9 439.7,154.3 440.4,156.9 441.0,153.4 441.6,154.9 442.2,155.5 442.8,158.3 443.4,162.2 444.0,159.8 444.6,160.8 445.2,159.2 445.8,159.6 446.4,157.3 447.0,156.7 447.6,151.8 448.3,153.2 448.9,152.2 449.5,155.6 450.1,153.5 450.7,152.8 451.2,152.0 451.8,146.6 452.4,147.6 453.0,148.7 453.6,144.0 454.2,145.5 454.8,142.3 455.4,138.7 456.0,141.4 456.6,139.2 457.2,140.7 457.9,139.2 458.5,140.4 459.1,135.1 459.7,143.2 460.3,142.2 460.9,139.3 461.4,138.7 462.0,141.1 462.6,143.0 463.2,142.4 463.8,142.3 464.4,137.5 465.0,139.1 465.6,143.9 466.2,141.6 466.7,137.9 467.3,139.1 467.9,137.8 468.5,137.9 469.2,141.6 469.8,138.0 470.4,140.0 471.0,137.4 471.7,133.2 472.3,134.2 472.9,140.1 473.5,133.9 474.1,133.4 474.7,138.0 475.3,135.7 475.9,135.5 476.5,139.0 477.1,132.9 477.8,137.9 478.4,135.4 479.0,135.1 479.6,136.8 480.2,141.4 480.8,139.4 481.3,136.5 481.9,138.6 482.5,144.5 483.1,143.0 483.8,138.1 484.4,144.4 485.0,138.5 485.6,136.3 486.3,137.9 486.9,139.6 487.5,139.5 488.1,136.9 488.6,132.4 489.2,130.7 489.8,127.4 490.4,129.2 491.0,127.1 491.5,127.8 492.1,123.7 492.7,124.2 493.3,122.2 493.9,120.3 494.5,119.1 495.1,118.2 495.7,116.6 496.3,120.8 496.9,120.4 497.4,118.1 498.0,122.4 498.6,122.5 499.2,126.6 499.7,125.9 500.2,128.0 500.8,129.3 501.4,130.0 502.0,130.0 502.5,128.6 503.1,127.0 503.7,128.0 504.2,126.8 504.8,127.0 505.3,124.4 505.9,126.3 506.4,122.4 507.0,119.7 507.6,118.7 508.1,118.5 508.7,115.7 509.3,112.4 509.9,110.2 510.5,110.8 511.1,112.5 511.7,113.0 512.3,110.9 512.9,112.5 513.5,112.3 514.2,114.2 514.8,114.7 515.5,117.7 516.1,115.6 516.8,119.2 517.4,123.2 518.0,121.0 518.5,124.5 519.1,121.4 519.7,123.8 520.3,126.1 520.9,123.9 521.5,125.3 522.1,132.1 522.7,126.8 523.3,127.4 523.9,128.3 524.5,130.1 525.1,130.6 525.7,133.3 526.3,133.5 526.9,130.8 527.5,130.6 528.0,128.1 528.6,127.6 529.2,128.9 529.9,131.0 530.5,128.8 531.1,128.2 531.7,126.1 532.3,123.3 532.9,120.8 533.5,116.2 534.1,112.8 534.7,106.4 535.3,100.2 535.8,94.0 536.3,87.9 537.1,78.5 538.0,88.1 538.8,100.0 539.3,108.7 539.9,117.6 540.5,119.5 541.1,121.5 541.7,121.2 542.3,124.6 542.9,125.9 543.4,122.7 544.0,130.0 544.6,128.4 545.2,128.2 545.7,134.2 546.3,130.6 546.9,129.5 547.5,131.0 548.1,132.4 548.7,133.0 549.3,131.4 549.9,129.2 550.5,128.9 551.0,128.1 551.6,127.0 552.2,128.6 552.8,126.9 553.4,127.3 553.9,124.8 554.5,124.0 555.1,124.7 555.7,123.9 556.3,126.5 556.8,121.9 557.4,123.7 558.0,122.7 558.6,119.5 559.2,123.1 559.8,121.3 560.4,116.1 561.0,123.0 561.5,125.0 562.1,122.7 562.7,129.2 563.3,125.1 563.9,121.6 564.4,124.2 565.0,121.5 565.6,121.2 566.2,121.3 566.8,128.0 567.4,127.7 568.0,131.0 568.6,130.9 569.1,129.5 569.7,130.0 570.3,135.1 570.9,135.6 571.5,134.2 572.0,132.6 572.6,131.9 573.2,133.7 573.8,137.3 574.4,134.3 575.0,132.2 575.5,129.7 576.1,131.9 576.7,129.2 577.3,130.2 577.9,130.9 578.5,130.8 579.0,128.2 579.6,126.4 580.2,126.8 580.8,129.7 581.4,126.5 582.0,122.5 582.6,128.3 583.2,126.1 583.8,130.7 584.4,125.6 584.9,126.8 585.5,126.9 586.1,128.8 586.7,127.5 587.3,126.4 587.8,126.2 588.4,130.5 589.0,130.5 589.6,131.0 590.2,137.2 590.7,135.2 591.3,136.5 591.9,134.0 592.5,136.8 593.1,136.9 593.6,138.1 594.2,141.2 594.8,142.1 595.4,142.6 596.0,142.1 596.5,138.6 597.1,139.8 597.7,141.8 598.3,140.0 598.8,139.0 599.4,141.0 600.0,137.8 600.7,137.7 601.3,140.2 601.9,137.1 602.5,140.1 603.2,137.6 603.8,137.5 604.4,137.7 605.1,130.5 605.7,134.2 606.3,131.3 606.9,132.5 607.6,132.7 608.2,134.9 608.8,132.8 609.5,136.7 610.1,132.8 610.7,134.3 611.3,135.1 612.0,137.3 612.6,135.8 613.2,135.6 613.8,137.2 614.4,136.1 615.1,142.5 615.7,142.4 616.3,142.8 616.9,143.5 617.5,142.4 618.2,143.6 618.8,146.8 619.4,144.3 620.0,145.1 620.7,150.6 621.3,151.4 621.9,148.2 622.6,148.0 623.2,146.7 623.8,148.6 624.4,144.2 625.1,144.6 625.7,144.8 626.3,146.1 626.9,142.1 627.5,142.4 628.1,140.4 628.8,139.4 629.4,138.8 630.0,139.7 630.6,140.7 631.2,136.9 631.8,136.5 632.4,137.2 633.0,139.0 633.6,140.0 634.2,136.3 634.7,139.9 635.3,137.4 635.9,141.2 636.5,138.1 637.1,138.1 637.7,139.6 638.3,141.7 638.8,140.6 639.4,143.8 640.0,144.5 640.6,145.1 641.1,146.3 641.7,148.3 642.3,145.8 642.9,147.8 643.5,148.2 644.1,144.6 644.7,150.0 645.2,148.2 645.8,148.8 646.4,149.8 647.0,151.4 647.6,152.4 648.2,152.2 648.8,149.3 649.4,151.6 650.0,150.6 650.5,148.5 651.1,148.7 651.7,149.9 652.3,148.7 652.9,148.7 653.5,147.1 654.1,148.7 654.6,150.4 655.2,146.4 655.8,141.9 656.4,148.1 657.0,143.1 657.6,141.0 658.1,138.7 658.7,143.7 659.3,144.6 659.9,144.0 660.5,141.6 661.1,145.7 661.6,143.0 662.2,142.4 662.8,144.1 663.4,144.8 663.9,144.8 664.5,145.9 665.1,141.1 665.7,149.3 666.3,145.7 666.9,148.9 667.5,146.7 668.0,149.3 668.6,149.3 669.2,147.2 669.8,151.8 670.4,153.0"/>
<polyline fill="none" stroke="#ff14ff" stroke-width="0.7" stroke-linejoin="round" points="378.2,151.8 378.8,152.1 379.3,149.1 379.9,150.4 380.5,151.1 381.0,149.1 381.6,151.2 382.2,144.7 382.7,146.7 383.2,144.4 383.8,143.9 384.4,145.0 384.9,145.7 385.4,145.8 386.0,145.7 386.5,149.4 387.0,145.4 387.5,138.7 388.1,142.7 388.6,140.1 389.1,139.8 389.6,143.8 390.2,139.5 390.7,134.8 391.2,140.0 391.8,138.1 392.4,135.5 392.9,135.7 393.4,136.0 394.0,137.1 394.5,135.8 395.0,136.8 395.5,140.8 396.1,133.9 396.6,133.6 397.1,134.7 397.6,137.7 398.2,132.9 398.7,137.9 399.2,130.6 399.8,131.0 400.4,133.1 400.9,130.7 401.4,130.9 402.0,133.2 402.5,132.8 403.1,130.1 403.6,128.0 404.1,130.9 404.6,127.4 405.2,124.7 405.7,127.1 406.2,121.3 406.7,123.4 407.2,124.1 407.7,121.8 408.2,119.9 408.8,121.2 409.4,118.0 409.9,116.9 410.5,114.9 411.1,119.7 411.7,114.1 412.3,117.9 412.9,115.5 413.4,113.3 414.0,115.2 414.6,113.7 415.2,112.8 415.8,107.9 416.4,110.3 416.9,111.2 417.5,109.1 418.1,109.2 418.7,109.2 419.3,105.7 419.9,108.7 420.4,99.1 421.0,101.4 421.6,96.1 422.2,103.7 422.8,101.7 423.3,105.5 423.9,100.2 424.5,95.8 425.1,103.7 425.7,96.7 426.2,96.5 426.8,98.9 427.4,100.5 428.0,97.2 428.6,97.9 429.2,91.7 429.8,99.7 430.4,94.2 431.0,93.6 431.6,93.8 432.2,91.8 432.7,91.0 433.3,87.2 433.9,88.3 434.4,87.5 435.0,86.8 435.5,83.2 436.0,83.1 436.5,83.0 437.1,82.9 437.6,81.4 438.1,79.5 438.6,78.2 439.2,82.4 439.8,80.5 440.3,79.9 440.9,85.7 441.5,82.3 442.1,82.7 442.7,81.4 443.2,79.0 443.8,84.9 444.4,82.3 445.0,82.2 445.6,84.1 446.1,83.6 446.7,81.2 447.3,80.1 447.9,84.0 448.5,78.8 449.1,74.1 449.7,75.4 450.2,71.7 450.8,69.1 451.4,69.0 452.0,66.5 452.6,68.6 453.2,62.7 453.7,60.7 454.3,60.4 454.8,55.5 455.4,58.4 455.9,54.7 456.4,56.7 456.9,50.6 457.5,52.8 458.0,46.7 458.5,50.2 459.0,52.0 459.5,53.8 460.1,58.1 460.6,58.4 461.1,51.0 461.6,53.1 462.2,58.7 462.7,57.2 463.2,53.2 463.8,58.4 464.4,53.7 465.0,53.6 465.5,51.9 466.1,53.7 466.7,59.2 467.3,53.7 467.9,51.6 468.4,56.7 469.0,48.9 469.6,48.8 470.2,47.2 470.8,47.6 471.4,44.5 472.0,47.6 472.6,41.9 473.1,44.1 473.6,43.4 474.1,40.8 474.7,40.6 475.2,43.0 475.7,37.6 476.2,43.4 476.8,44.2 477.4,44.9 477.9,44.9 478.5,46.6 479.1,45.4 479.7,48.8 480.3,44.0 480.8,51.2 481.4,47.6 482.0,51.9 482.6,48.9 483.2,48.4 483.8,46.9 484.4,51.7 485.0,45.0 485.6,44.1 486.2,47.1 486.7,46.6 487.3,45.5 487.9,42.4 488.4,41.9 488.9,44.6 489.4,38.5 490.0,41.4 490.5,40.4 491.0,37.7 491.5,33.1 492.1,39.7 492.7,34.1 493.3,33.1 493.9,30.4 494.5,27.8 495.1,29.7 495.7,31.0 496.2,28.5 496.8,31.1 497.4,33.8 498.0,33.2 498.6,33.0 499.1,37.1 499.7,37.9 500.3,39.1 500.9,35.5 501.5,33.7 502.0,41.0 502.6,39.8 503.2,39.5 503.8,42.5 504.3,41.1 504.8,41.6 505.4,48.3 505.9,38.4 506.5,41.9 507.1,40.2 507.6,39.5 508.2,34.4 508.7,32.7 509.2,27.8 509.8,27.4 510.4,22.8 511.0,27.3 511.5,29.4 512.1,29.9 512.7,29.7 513.2,33.9 513.8,27.2 514.3,31.6 514.8,30.4 515.3,31.6 515.9,31.7 516.4,36.5 517.0,30.4 517.5,37.8 518.0,39.3 518.6,36.9 519.2,37.0 519.7,36.8 520.2,38.9 520.8,47.2 521.4,37.8 521.9,45.4 522.5,43.3 523.0,50.5 523.5,47.3 524.1,43.8 524.6,47.0 525.2,49.8 525.7,50.7 526.2,49.0 526.8,51.7 527.3,52.4 527.9,54.4 528.5,53.5 529.0,53.0 529.6,50.6 530.2,53.7 530.8,48.7 531.5,47.0 532.1,46.1 532.7,43.0 533.3,39.8 533.8,34.9 534.4,35.0 535.0,31.0 535.5,29.3 536.0,25.0 536.5,23.9 537.0,20.7 537.5,18.0 538.0,22.8 538.6,25.0 539.1,29.3 539.7,32.3 540.3,38.1 540.9,42.0 541.5,42.6 542.1,44.0 542.6,41.2 543.2,45.3 543.8,49.8 544.4,44.7 545.0,54.1 545.5,54.9 546.1,51.6 546.7,51.8 547.3,55.4 547.9,58.5 548.5,60.5 549.0,68.6 549.6,69.7 550.2,67.1 550.7,63.5 551.2,59.2 551.8,58.8 552.3,60.5 552.9,56.6 553.4,60.8 553.9,62.5 554.5,56.5 555.0,54.1 555.5,57.0 556.1,55.7 556.6,52.4 557.1,53.2 557.6,53.2 558.2,53.6 558.7,54.6 559.2,50.3 559.7,48.0 560.2,47.0 560.8,55.5 561.3,49.6 561.8,49.4 562.3,56.0 562.8,54.8 563.4,59.5 564.0,55.2 564.5,55.8 565.1,57.8 565.7,62.3 566.2,63.3 566.8,64.9 567.4,71.2 568.0,69.5 568.6,64.0 569.2,68.4 569.8,69.4 570.4,66.7 570.9,74.6 571.4,71.6 571.9,73.4 572.5,68.7 573.0,67.6 573.5,72.7 574.0,70.7 574.5,69.1 575.1,69.6 575.6,69.6 576.1,68.8 576.6,67.2 577.2,68.2 577.7,72.0 578.2,68.9 578.7,64.4 579.2,70.5 579.8,63.8 580.3,60.9 580.8,60.9 581.3,59.0 581.8,66.8 582.4,60.9 582.9,59.8 583.4,61.8 583.9,62.4 584.5,59.6 585.0,61.1 585.6,63.5 586.2,66.2 586.7,63.2 587.3,68.0 587.9,68.3 588.4,70.1 588.9,68.4 589.4,67.9 590.0,74.3 590.5,74.4 591.0,72.3 591.5,73.0 592.1,78.3 592.7,83.3 593.3,80.8 593.9,87.2 594.5,83.9 595.1,84.6 595.6,85.7 596.2,87.9 596.8,82.1 597.3,85.7 597.8,88.0 598.3,80.4 598.8,84.4 599.3,85.1 599.9,87.0 600.5,86.1 601.0,81.5 601.5,86.2 602.1,77.7 602.7,76.4 603.2,82.7 603.8,80.8 604.3,76.0 604.9,81.3 605.4,80.5 606.0,79.8 606.5,76.6 607.1,74.3 607.6,72.9 608.1,76.9 608.6,77.2 609.1,76.5 609.7,76.6 610.2,80.6 610.7,75.6 611.2,76.8 611.7,84.4 612.3,78.5 612.8,79.3 613.3,84.3 613.8,77.8 614.4,87.1 614.9,81.5 615.4,84.3 615.9,84.7 616.4,88.2 616.9,90.6 617.5,95.4 618.1,93.9 618.6,98.5 619.2,98.1 619.8,94.0 620.4,98.2 620.9,96.3 621.5,96.5 622.0,97.5 622.6,97.8 623.1,97.7 623.7,90.9 624.2,95.5 624.8,94.4 625.3,99.5 625.9,93.6 626.4,93.4 626.9,92.8 627.5,94.0 628.0,88.4 628.5,90.3 629.0,89.6 629.6,89.1 630.1,87.8 630.6,87.0 631.2,88.5 631.8,84.9 632.3,92.2 632.9,88.0 633.4,83.3 634.0,87.1 634.5,90.1 635.1,88.2 635.7,89.3 636.2,85.0 636.8,95.3 637.4,92.9 638.0,88.8 638.5,93.5 639.1,99.2 639.6,97.4 640.1,93.5 640.7,96.7 641.2,99.6 641.8,105.1 642.3,101.4 642.8,103.4 643.4,101.5 643.9,103.2 644.4,101.3 645.0,101.3 645.5,102.0 646.0,104.7 646.5,110.1 647.1,107.6 647.6,111.5 648.1,109.8 648.7,107.7 649.2,105.4 649.7,111.5 650.2,108.4 650.8,108.1 651.3,110.1 651.8,107.6 652.4,103.7 652.9,103.5 653.4,103.3 654.0,106.9 654.5,98.0 655.0,95.4 655.6,98.1 656.1,98.6 656.7,96.5 657.2,99.6 657.8,98.4 658.4,96.3 659.0,96.2 659.5,100.4 660.1,100.2 660.7,99.1 661.2,94.6 661.8,99.5 662.4,94.3 662.9,93.5 663.5,103.3 664.0,102.0 664.6,102.4 665.1,105.1 665.6,106.4 666.2,103.6 666.8,104.3 667.3,105.8 667.9,107.1 668.4,106.1 669.0,102.9 669.5,112.8 670.0,106.5 670.5,108.2 671.0,112.5"/>
<text class="lab" x="265" y="105.8" fill="#111">SeB1</text>
<text class="lab" x="257" y="189.6" fill="#ff1010">SeB2</text>
<text class="lab" x="258" y="253.2" fill="#1414ee">SeB3</text>
<text x="615.5" y="73" font-size="7.5" fill="#ff14ff">Ag</text><text class="lab" x="624.5" y="68.7" fill="#ff14ff">SeB1</text>
<text x="612.5" y="132.5" font-size="7.5" fill="#ff8020">Ag</text><text class="lab" x="621" y="128" fill="#ff8020">SeB2</text>
<text x="613" y="237.5" font-size="7.5" fill="#1e8c1e">Ag</text><text class="lab" x="622" y="234.5" fill="#1e8c1e">SeB3</text>
<!-- annotations -->
<g class="ser">
<text x="123.8" y="22.2">PO<tspan dy="3" font-size="10">4</tspan><tspan dy="-8" font-size="10">3-</tspan><tspan dy="5">(</tspan><tspan class="it">v</tspan><tspan dy="3" font-size="10" class="it">1</tspan><tspan dy="-3">)</tspan></text>
<text x="198.3" y="22.2">PO<tspan dy="3" font-size="10">4</tspan><tspan dy="-8" font-size="10">3-</tspan><tspan dy="5">(</tspan><tspan class="it">v</tspan><tspan dy="3" font-size="10" class="it">4</tspan><tspan dy="-3">)</tspan></text>
<text x="251.6" y="34.6">CO<tspan dy="3" font-size="10">3</tspan><tspan dy="-8" font-size="10">2-</tspan><tspan dy="5">(</tspan><tspan class="it">v</tspan><tspan dy="3" font-size="10" class="it">1</tspan><tspan dy="-3">)</tspan></text>
<text x="70.4" y="88.5">PO<tspan dy="3" font-size="10">4</tspan><tspan dy="-8" font-size="10">3-</tspan><tspan dy="5">(</tspan><tspan class="it">v</tspan><tspan dy="3" font-size="10" class="it">4</tspan><tspan dy="-3">)</tspan></text>
<text x="30.5" y="113.1">PO<tspan dy="3" font-size="10">4</tspan><tspan dy="-8" font-size="10">3-</tspan><tspan dy="5">(</tspan><tspan class="it">v</tspan><tspan dy="3" font-size="10" class="it">2</tspan><tspan dy="-3">)</tspan></text>
<text x="130.3" y="118.6">SeO<tspan dy="3" font-size="10">3</tspan><tspan dy="-8" font-size="10">2-</tspan><tspan dy="5">(</tspan><tspan class="it">v</tspan><tspan dy="3" font-size="10" class="it">1</tspan><tspan dy="-3">)</tspan></text>
</g>
<defs><marker id="ah" viewBox="0 0 10 10" refX="9" refY="5" markerWidth="5.5" markerHeight="5.5" orient="auto-start-reverse"><path d="M0 1L10 5L0 9Z" fill="#111"/></marker></defs>
<g stroke="#111" stroke-width="0.9" fill="none">
<path d="M182 22.6L174.5 17.2" marker-end="url(#ah)"/>
<path d="M207.3 37.6V23.6" marker-end="url(#ah)"/>
<path d="M237 41.9L253.5 37.1" marker-end="url(#ah)"/>
<path d="M103.9 103.1L98.8 87.7" marker-end="url(#ah)"/>
<path d="M71.8 161.4L56.5 119.4" marker-end="url(#ah)"/>
<path d="M158.5 141.2V125.9" marker-end="url(#ah)"/>
</g>
</svg>
</body></html>
